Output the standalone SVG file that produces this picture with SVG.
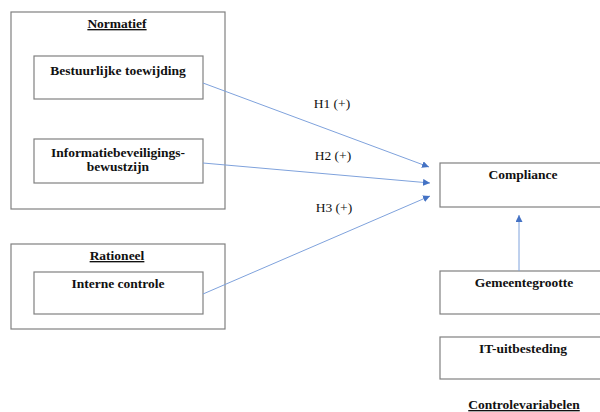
<svg xmlns="http://www.w3.org/2000/svg" width="600" height="412" viewBox="0 0 600 412">
<defs>
<style>
.box{fill:#fff;stroke:#808080;stroke-width:1.2}
.t{font-family:"Liberation Serif","Times New Roman",serif;font-weight:bold;font-size:13.5px;fill:#111;text-anchor:middle}
.u{text-decoration:underline}
.h{font-family:"Liberation Serif","Times New Roman",serif;font-size:13.5px;fill:#111;text-anchor:middle}
.c{stroke:#7fa2dc;stroke-width:1;fill:none;marker-end:url(#ah)}
</style>
<marker id="ah" viewBox="0 0 10 10" refX="10" refY="5" markerWidth="7" markerHeight="7" markerUnits="userSpaceOnUse" orient="auto">
<path d="M0,0 L10,5 L0,10 z" fill="#4472c4"/>
</marker>
</defs>
<rect width="600" height="412" fill="#fff"/>
<g id="normatief">
<rect class="box" x="11" y="12" width="214" height="197"/>
<text class="t u" x="117" y="28">Normatief</text>
</g>
<g id="bestuurlijke">
<rect class="box" x="34" y="56" width="169" height="43"/>
<text class="t" x="118" y="75">Bestuurlijke toewijding</text>
</g>
<g id="informatie">
<rect class="box" x="34" y="139" width="169" height="44"/>
<text class="t" x="118" y="157">Informatiebeveiligings-</text>
<text class="t" x="118" y="171">bewustzijn</text>
</g>
<g id="rationeel">
<rect class="box" x="11" y="244" width="214" height="85"/>
<text class="t u" x="117" y="260">Rationeel</text>
</g>
<g id="interne">
<rect class="box" x="34" y="272" width="169" height="42"/>
<text class="t" x="118" y="288">Interne controle</text>
</g>
<g id="compliance">
<rect class="box" x="440" y="163" width="170" height="44"/>
<text class="t" x="523" y="179">Compliance</text>
</g>
<g id="gemeentegrootte">
<rect class="box" x="440" y="271" width="170" height="43"/>
<text class="t" x="524" y="287">Gemeentegrootte</text>
</g>
<g id="it">
<rect class="box" x="440" y="337" width="170" height="42"/>
<text class="t" x="523" y="353">IT-uitbesteding</text>
</g>
<g id="controlevariabelen">
<text class="t u" x="524" y="409">Controlevariabelen</text>
</g>
<g id="connectors">
<line class="c" x1="203" y1="83" x2="429" y2="167"/>
<line class="c" x1="203" y1="163" x2="430" y2="183"/>
<line class="c" x1="203" y1="294" x2="430" y2="196"/>
<line class="c" x1="519" y1="271" x2="519" y2="215"/>
<text class="h" x="332" y="108">H1 (+)</text>
<text class="h" x="333" y="160">H2 (+)</text>
<text class="h" x="334" y="212">H3 (+)</text>
</g>
</svg>
